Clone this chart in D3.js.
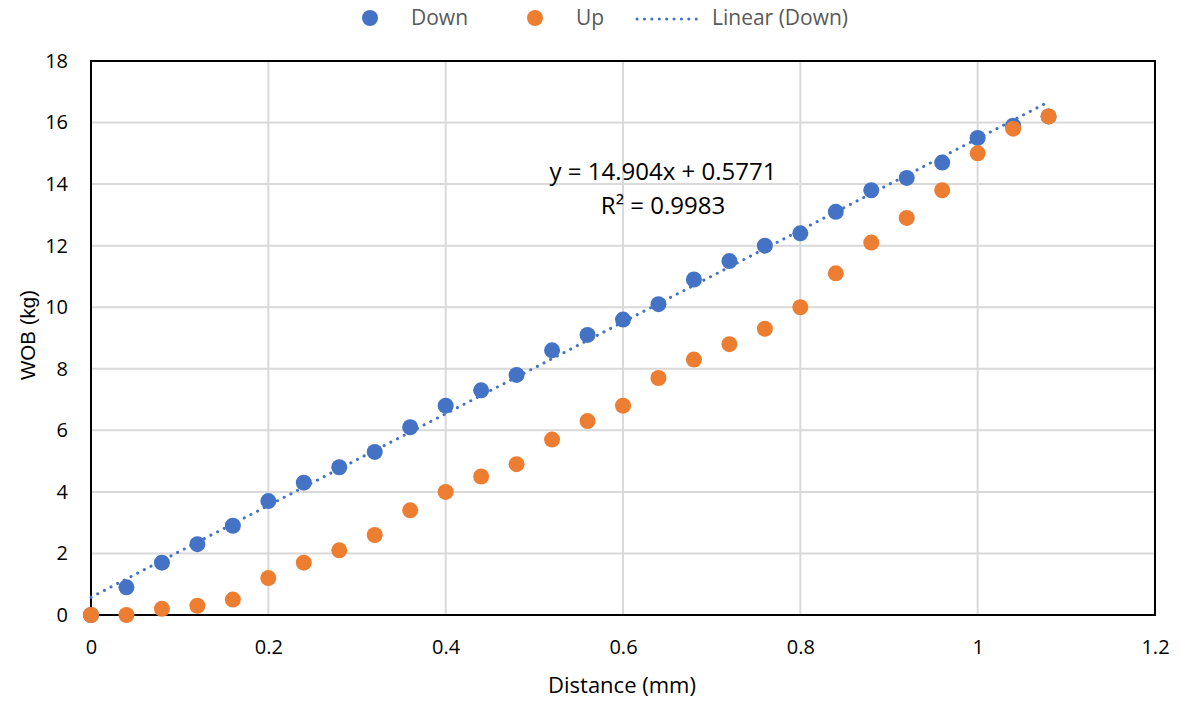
<!DOCTYPE html>
<html>
<head>
<meta charset="utf-8">
<script src="https://cdn.jsdelivr.net/npm/d3@7"></script>
<style>
  body { margin: 0; background: #fff; }
  svg { display: block; font-family: "Open Sans", "Liberation Sans", sans-serif; }
</style>
</head>
<body>
<svg id="chart" width="1180" height="702"></svg>
<script>
// Displacement readings (mm) with weight-on-bit (kg) for loading and unloading
const distance = [0, 0.04, 0.08, 0.12, 0.16, 0.2, 0.24, 0.28, 0.32, 0.36, 0.4, 0.44, 0.48, 0.52,
  0.56, 0.6, 0.64, 0.68, 0.72, 0.76, 0.8, 0.84, 0.88, 0.92, 0.96, 1.0, 1.04, 1.08];
const down = [0, 0.9, 1.7, 2.3, 2.9, 3.7, 4.3, 4.8, 5.3, 6.1, 6.8, 7.3, 7.8, 8.6,
  9.1, 9.6, 10.1, 10.9, 11.5, 12.0, 12.4, 13.1, 13.8, 14.2, 14.7, 15.5, 15.9, 16.2];
const up = [0, 0, 0.2, 0.3, 0.5, 1.2, 1.7, 2.1, 2.6, 3.4, 4.0, 4.5, 4.9, 5.7,
  6.3, 6.8, 7.7, 8.3, 8.8, 9.3, 10.0, 11.1, 12.1, 12.9, 13.8, 15.0, 15.8, 16.2];
const xTicks = [0, 0.2, 0.4, 0.6, 0.8, 1, 1.2];
const yTicks = [0, 2, 4, 6, 8, 10, 12, 14, 16, 18];
const trend = { slope: 14.904, intercept: 0.5771, r2: 0.9983 };

const blue = "#4472C4", orange = "#ED7D31";
const mainFont = "\"Open Sans\", \"Liberation Sans\", sans-serif";
const svg = d3.select("#chart");
const plotL = 91, plotR = 1155, plotT = 61, plotB = 615;

const x = d3.scaleLinear().domain([0, 1.2]).range([plotL, plotR]);
const y = d3.scaleLinear().domain([0, 18]).range([plotB, plotT]);

// Gridlines
svg.append("g").selectAll("line").data(xTicks.slice(1, -1)).join("line")
  .attr("x1", d => x(d)).attr("x2", d => x(d)).attr("y1", plotT).attr("y2", plotB)
  .attr("stroke", "#d9d9d9").attr("stroke-width", 2);
svg.append("g").selectAll("line").data(yTicks.slice(1, -1)).join("line")
  .attr("x1", plotL).attr("x2", plotR).attr("y1", d => y(d)).attr("y2", d => y(d))
  .attr("stroke", "#d9d9d9").attr("stroke-width", 2);

// Plot frame
svg.append("rect").attr("x", plotL).attr("y", plotT)
  .attr("width", plotR - plotL).attr("height", plotB - plotT)
  .attr("fill", "none").attr("stroke", "#000").attr("stroke-width", 2);

// Axes (labels only; the frame draws the lines)
const xAxis = svg.append("g").attr("transform", `translate(0,${plotB})`)
  .call(d3.axisBottom(x).tickValues(xTicks).tickSize(0).tickPadding(25).tickFormat(d3.format("")));
const yAxis = svg.append("g").attr("transform", `translate(${plotL},0)`)
  .call(d3.axisLeft(y).tickValues(yTicks).tickSize(0).tickPadding(23));
[xAxis, yAxis].forEach(a => {
  a.select(".domain").remove();
  a.selectAll("text").attr("font-size", 20).attr("fill", "#000").attr("font-family", mainFont);
});

// Axis titles
svg.append("text").attr("x", 622).attr("y", 693)
  .attr("text-anchor", "middle").attr("font-size", 22).attr("fill", "#000").text("Distance (mm)");
svg.append("text").attr("transform", "translate(35,335) rotate(-90)")
  .attr("text-anchor", "middle").attr("font-size", 20.5).attr("fill", "#000")
  .attr("font-family", "\"Liberation Sans\", Arial, sans-serif").text("WOB (kg)");

// Series points
const pts = distance.map((d, i) => ({ d, down: down[i], up: up[i] }));
svg.append("g").selectAll("circle").data(pts).join("circle")
  .attr("cx", p => x(p.d)).attr("cy", p => y(p.down)).attr("r", 8).attr("fill", blue);

// Linear trendline for the Down series
const tx = d3.extent(distance);
svg.append("line")
  .attr("x1", x(tx[0])).attr("y1", y(trend.slope * tx[0] + trend.intercept))
  .attr("x2", x(tx[1])).attr("y2", y(trend.slope * tx[1] + trend.intercept))
  .attr("stroke", blue).attr("stroke-width", 3)
  .attr("stroke-dasharray", "0.1 7.4").attr("stroke-linecap", "round");

svg.append("g").selectAll("circle").data(pts).join("circle")
  .attr("cx", p => x(p.d)).attr("cy", p => y(p.up)).attr("r", 8).attr("fill", orange);

// Trendline equation
svg.append("text").attr("x", 663).attr("y", 180).attr("text-anchor", "middle")
  .attr("font-size", 24).attr("fill", "#000")
  .text(`y = ${trend.slope}x + ${trend.intercept}`);
svg.append("text").attr("x", 663).attr("y", 214).attr("text-anchor", "middle")
  .attr("font-size", 24).attr("fill", "#000")
  .text(`R\u00B2 = ${trend.r2}`);

// Legend
const lg = svg.append("g").attr("font-size", 21).attr("fill", "#595959");
lg.append("circle").attr("cx", 370).attr("cy", 18).attr("r", 8).attr("fill", blue);
lg.append("text").attr("x", 411).attr("y", 25).text("Down");
lg.append("circle").attr("cx", 535).attr("cy", 18).attr("r", 8).attr("fill", orange);
lg.append("text").attr("x", 576).attr("y", 25).text("Up");
lg.append("line").attr("x1", 637).attr("x2", 703).attr("y1", 19).attr("y2", 19)
  .attr("stroke", blue).attr("stroke-width", 3)
  .attr("stroke-dasharray", "0.1 7.3").attr("stroke-linecap", "round");
lg.append("text").attr("x", 712).attr("y", 25).text("Linear (Down)");
</script>
</body>
</html>
